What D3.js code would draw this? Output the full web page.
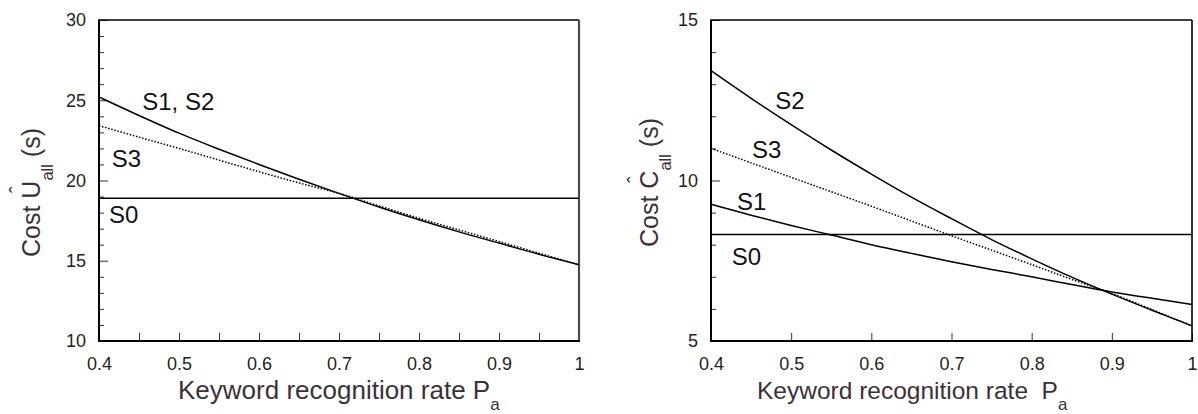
<!DOCTYPE html>
<html><head><meta charset="utf-8">
<script src="https://cdn.jsdelivr.net/npm/d3@7"></script>
<style>
html,body{margin:0;padding:0;background:#fff;}
svg{display:block;font-family:"Liberation Sans",Arial,Helvetica,sans-serif;}
</style></head>
<body><svg id="c" width="1198" height="414"></svg>
<script>
// ---------- data ----------
const pa = [0.4,0.45,0.5,0.55,0.6,0.65,0.7,0.75,0.8,0.85,0.9,0.95,1.0];
const paEnds = [0.4,1.0];
// Left panel: cost U_all (s)
const uS12 = [25.2,24.05,22.95,21.95,21.0,20.08,19.2,18.35,17.55,16.8,16.1,15.4,14.75];
const uS3  = [23.42,22.7,22.0,21.27,20.55,19.85,19.2,18.42,17.65,16.92,16.2,15.47,14.75];
const uS0  = [18.9,18.9];
// Right panel: cost C_all (s)
const cS2 = [13.42,12.56,11.74,10.95,10.2,9.48,8.81,8.16,7.56,6.99,6.46,5.96,5.47];
const cS3 = [11.0,10.55,10.1,9.65,9.2,8.74,8.28,7.83,7.38,6.92,6.48,5.98,5.47];
const cS1 = [9.26,8.92,8.6,8.3,8.0,7.73,7.47,7.23,7.0,6.76,6.53,6.33,6.14];
const cS0 = [8.32,8.32];
// ticks
const xMajor = [0.4,0.5,0.6,0.7,0.8,0.9,1.0];
const xMinorLeft = [0.45,0.55,0.65,0.75,0.85,0.95];
const uMajor = [10,15,20,25,30];
const uMinor = [11,12,13,14,16,17,18,19,21,22,23,24,26,27,28,29];
const cMajor = [5,10,15];
const cMinor = [6,7,8,9,11,12,13,14];
// curve labels (data coordinates)
const uLabels = [{t:"S1, S2",x:0.454,y:24.4},{t:"S3",x:0.416,y:20.84},{t:"S0",x:0.4125,y:17.35}];
const cLabels = [{t:"S2",x:0.48,y:12.23},{t:"S3",x:0.451,y:10.7},{t:"S1",x:0.4325,y:9.08},{t:"S0",x:0.426,y:7.37}];

// ---------- drawing ----------
const svg = d3.select("#c");
const TICK_COL = "#231f20", TITLE_COL = "#3b3138";
const fmt = d => d === 1 ? "1" : d3.format(".1f")(d);

function panel(opt){
  const x = d3.scaleLinear().domain([0.4,1]).range([opt.x0,opt.x1]);
  const y = d3.scaleLinear().domain(opt.yDom).range([341,20]);
  const g = svg.append("g");

  if (opt.xMinor) {
    g.append("g").attr("transform","translate(0,341)")
     .call(d3.axisBottom(x).tickValues(opt.xMinor).tickSize(-8).tickSizeOuter(0).tickFormat(""))
     .call(a=>a.select(".domain").remove())
     .call(a=>a.selectAll("line").attr("stroke","#333").attr("stroke-width",1));
  }
  g.append("g").attr("transform","translate(0,341)")
   .call(d3.axisBottom(x).tickValues(xMajor).tickSize(-8).tickSizeOuter(0).tickPadding(16).tickFormat(fmt))
   .call(a=>a.select(".domain").remove())
   .call(a=>a.selectAll("line").attr("stroke","#333").attr("stroke-width",1))
   .call(a=>a.selectAll("text").attr("font-size",18).attr("fill",TICK_COL).attr("font-family",null));
  g.append("g").attr("transform",`translate(${opt.x0},0)`)
   .call(d3.axisLeft(y).tickValues(opt.yMinor).tickSize(-5).tickSizeOuter(0).tickFormat(""))
   .call(a=>a.select(".domain").remove())
   .call(a=>a.selectAll("line").attr("stroke","#333").attr("stroke-width",1));
  g.append("g").attr("transform",`translate(${opt.x0},0)`)
   .call(d3.axisLeft(y).tickValues(opt.yMajor).tickSize(-9).tickSizeOuter(0).tickPadding(13).tickFormat(d3.format("d")))
   .call(a=>a.select(".domain").remove())
   .call(a=>a.selectAll("line").attr("stroke","#333").attr("stroke-width",1))
   .call(a=>a.selectAll("text").attr("font-size",18).attr("fill",TICK_COL).attr("font-family",null));

  const X0=opt.x0, X1=opt.x1, Y0=20, Y1=341;
  g.append("line").attr("x1",X0).attr("x2",X1).attr("y1",Y0).attr("y2",Y0).attr("stroke","#000").attr("stroke-width",1.3);
  g.append("line").attr("x1",X1).attr("x2",X1).attr("y1",Y0).attr("y2",Y1).attr("stroke",opt.rightCol).attr("stroke-width",opt.rightW);
  g.append("line").attr("x1",X0).attr("x2",X1+1).attr("y1",Y1).attr("y2",Y1).attr("stroke","#000").attr("stroke-width",2);
  g.append("line").attr("x1",X0).attr("x2",X0).attr("y1",Y0-0.6).attr("y2",Y1+1).attr("stroke","#000").attr("stroke-width",2);

  const line = d3.line().x(d=>x(d[0])).y(d=>y(d[1])).curve(d3.curveCatmullRom.alpha(0.5));
  opt.series.forEach(s=>{
    g.append("path").datum(d3.zip(s.xs,s.ys)).attr("d",line).attr("fill","none")
     .attr("stroke","#000").attr("stroke-width",1.5)
     .attr("stroke-dasharray",s.dot?"1.5,1.7":null);
  });

  g.selectAll(".lab").data(opt.labels).enter().append("text")
   .attr("x",d=>x(d.x)).attr("y",d=>y(d.y)).attr("font-size",24).attr("fill","#111").text(d=>d.t);

  const xt = g.append("text").attr("x",opt.xtX).attr("y",399).attr("font-size",opt.xtSize).attr("fill",TITLE_COL);
  xt.append("tspan").text(opt.xtText);
  xt.append("tspan").attr("dy",10.5).attr("font-size",17).text("a");

  const yg = g.append("g").attr("transform",`translate(${opt.ytX},${opt.ytY}) rotate(-90)`);
  const yt = yg.append("text").attr("x",0).attr("y",0).attr("font-size",25).attr("fill",TITLE_COL);
  yt.append("tspan").text("Cost " + opt.letter);
  yt.append("tspan").attr("dy",13).attr("font-size",16.5).text("all");
  yt.append("tspan").attr("dy",-13).text(" (s)");
  const ext = yt.node().getExtentOfChar(5);
  yg.append("text").attr("x",ext.x+ext.width/2).attr("y",-16).attr("text-anchor","middle")
    .attr("font-size",20).attr("fill",TITLE_COL).text("\u02C6");
}

panel({x0:99,x1:579,yDom:[10,30],yMajor:uMajor,yMinor:uMinor,xMinor:xMinorLeft,
  rightCol:"#4a4a4a",rightW:2.2,
  series:[{xs:pa,ys:uS12},{xs:pa,ys:uS3,dot:true},{xs:paEnds,ys:uS0}],
  labels:uLabels,xtX:178,xtSize:26,xtText:"Keyword recognition rate P",ytX:40,ytY:257,letter:"U"});

panel({x0:711,x1:1192,yDom:[5,15],yMajor:cMajor,yMinor:cMinor,xMinor:null,
  rightCol:"#000",rightW:1.6,
  series:[{xs:pa,ys:cS2},{xs:pa,ys:cS3,dot:true},{xs:pa,ys:cS1},{xs:paEnds,ys:cS0}],
  labels:cLabels,xtX:757,xtSize:24.5,xtText:"Keyword recognition rate\u00A0 P",ytX:658,ytY:247,letter:"C"});
</script>
</body></html>
